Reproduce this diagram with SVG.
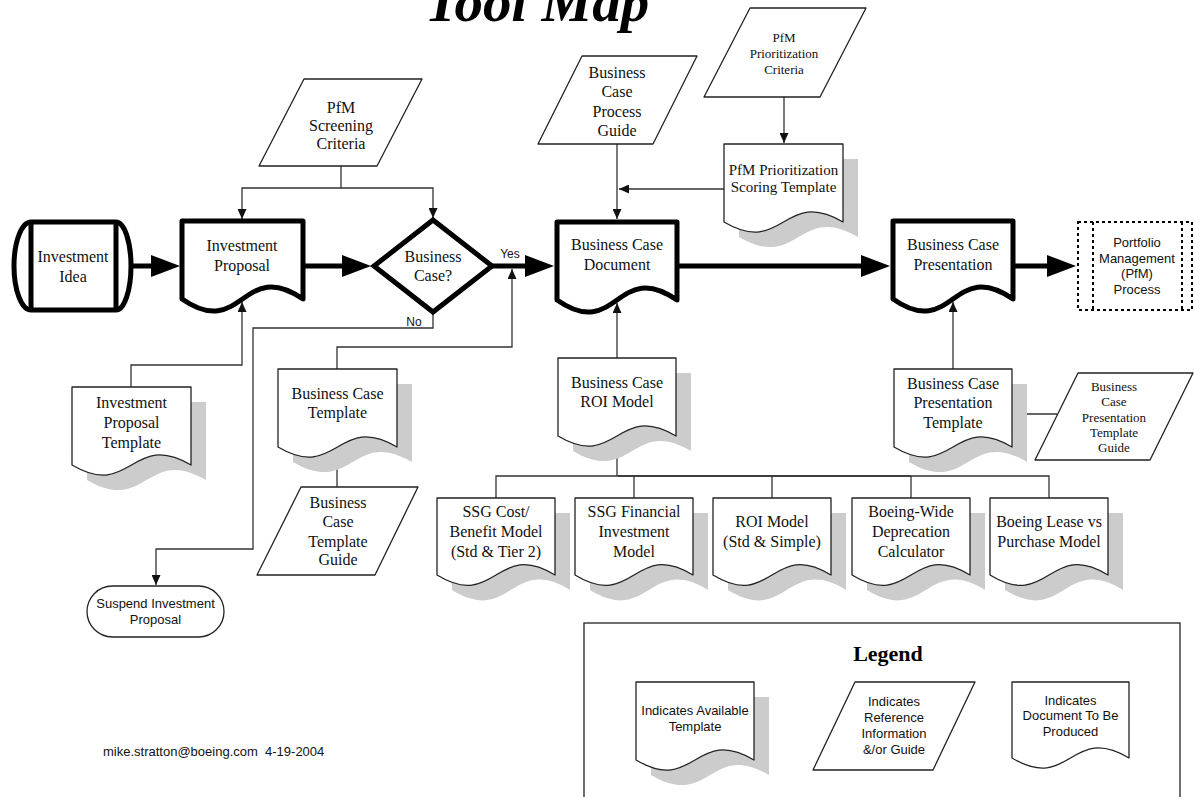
<svg xmlns="http://www.w3.org/2000/svg" width="1194" height="797" viewBox="0 0 1194 797">
<style>
.bg{fill:#fff}
.doc{fill:#fff;stroke:#222;stroke-width:1.3;stroke-linejoin:round}
.thick{fill:#fff;stroke:#000;stroke-width:5;stroke-linejoin:round}
.sh{fill:#cccccc}
.c{fill:none;stroke:#333;stroke-width:1.3}
.tk{fill:none;stroke:#000;stroke-width:5}
.s{font-family:"Liberation Serif","Times New Roman",serif;font-size:16px;text-anchor:middle;fill:#111}
.s15{font-size:15px}
.s13{font-size:13px}
.a{font-family:"Liberation Sans",Arial,sans-serif;font-size:13px;text-anchor:middle;fill:#111}
.a12{font-size:12px}
</style>
<defs>
<marker id="ar" viewBox="0 0 10 9" refX="10" refY="4.5" markerWidth="10" markerHeight="9" markerUnits="userSpaceOnUse" orient="auto"><path d="M0,0 L10,4.5 L0,9 z" fill="#111"/></marker>
<marker id="big" viewBox="0 0 29 22" refX="1" refY="11" markerWidth="29" markerHeight="22" markerUnits="userSpaceOnUse" orient="auto"><path d="M0,0 L29,11 L0,22 z" fill="#000"/></marker>
</defs>
<rect class="bg" x="0" y="0" width="1194" height="797"/>

<text x="537" y="21" font-family="'Liberation Serif','Times New Roman',serif" font-size="57" font-weight="bold" font-style="italic" text-anchor="middle" fill="#000">Tool Map</text>

<g id="connectors">
<path class="c" d="M341,166 V188 H242 V219" marker-end="url(#ar)"/>
<path class="c" d="M341,188 H433 V218" marker-end="url(#ar)"/>
<path class="c" d="M131,387 V365 H242 V302" marker-end="url(#ar)"/>
<path class="c" d="M337,369 V347 H512 V269" marker-end="url(#ar)"/>
<path class="c" d="M337,487 V448" marker-end="url(#ar)"/>
<path class="c" d="M433,314 V328 H253 V549 H156 V585" marker-end="url(#ar)"/>
<path class="c" d="M617,144 V219" marker-end="url(#ar)"/>
<path class="c" d="M724,189 H619" marker-end="url(#ar)"/>
<path class="c" d="M784,97 V143" marker-end="url(#ar)"/>
<path class="c" d="M617,358 V303" marker-end="url(#ar)"/>
<path class="c" d="M496,498 V476 H1049 V498"/>
<path class="c" d="M634,476 V498 M772,476 V498 M911,476 V498"/>
<path class="c" d="M618,476 H911" stroke-width="2"/>
<path class="c" d="M617,476 V438" marker-end="url(#ar)"/>
<path class="c" d="M953,369 V302" marker-end="url(#ar)"/>
<path class="c" d="M1057,414 H1014" marker-end="url(#ar)"/>
<path class="tk" d="M133,266 H152" marker-end="url(#big)"/>
<path class="tk" d="M303,266 H343" marker-end="url(#big)"/>
<path class="tk" d="M492,266 H526" marker-end="url(#big)"/>
<path class="tk" d="M677,266 H862" marker-end="url(#big)"/>
<path class="tk" d="M1013,266 H1048" marker-end="url(#big)"/>
<text class="a a12" x="510" y="258">Yes</text>
<text class="a a12" x="414" y="326">No</text>
</g>

<g id="investment-idea">
<path class="thick" d="M31,222 H116 A15,44 0 0 1 116,310 H31 A17,44 0 0 1 31,222 Z"/>
<path class="tk" d="M31,222 V310 M116,222 V310"/>
<text class="s" x="73" y="262">Investment</text>
<text class="s" x="73" y="282">Idea</text>
</g>

<g id="investment-proposal">
<path class="thick" d="M182,221 H303 V299 C242.5,257 242.5,341 182,299 Z"/>
<text class="s" x="242" y="251">Investment</text>
<text class="s" x="242" y="271">Proposal</text>
</g>

<g id="business-case-decision">
<polygon class="thick" style="stroke-linejoin:miter" points="433,220 492,266 433,312 374,266"/>
<text class="s" x="433" y="262">Business</text>
<text class="s" x="433" y="281">Case?</text>
</g>

<g id="business-case-document">
<path class="thick" d="M557,222 H677 V300 C617,258 617,342 557,300 Z"/>
<text class="s" x="617" y="250">Business Case</text>
<text class="s" x="617" y="270">Document</text>
</g>

<g id="business-case-presentation">
<path class="thick" d="M893,221 H1013 V299 C953,257 953,341 893,299 Z"/>
<text class="s" x="953" y="250">Business Case</text>
<text class="s" x="953" y="270">Presentation</text>
</g>

<g id="portfolio-process">
<rect x="1078" y="222" width="114" height="88" fill="#fff" stroke="#000" stroke-width="2" stroke-dasharray="3,3"/>
<path d="M1093,222 V310 M1182,222 V310" stroke="#000" stroke-width="2" stroke-dasharray="3,3"/>
<text class="a" x="1137" y="246.5">Portfolio</text>
<text class="a" x="1137" y="262.5">Management</text>
<text class="a" x="1137" y="277.5">(PfM)</text>
<text class="a" x="1137" y="293.5">Process</text>
</g>

<g id="pfm-screening-criteria">
<polygon class="doc" points="304,79 422,79 377,166 259,166"/>
<text class="s" x="341" y="113">PfM</text>
<text class="s" x="341" y="131">Screening</text>
<text class="s" x="341" y="149">Criteria</text>
</g>

<g id="business-case-process-guide">
<polygon class="doc" points="582,56 697,56 653,144 538,144"/>
<text class="s" x="617" y="77.5">Business</text>
<text class="s" x="617" y="97">Case</text>
<text class="s" x="617" y="116.5">Process</text>
<text class="s" x="617" y="136">Guide</text>
</g>

<g id="pfm-prioritization-criteria">
<polygon class="doc" points="750,8 866,8 820,97 704,97"/>
<text class="s s13" x="784" y="41.5">PfM</text>
<text class="s s13" x="784" y="57.5">Prioritization</text>
<text class="s s13" x="784" y="73.5">Criteria</text>
</g>

<g id="pfm-scoring-template">
<path class="sh" d="M739,159 H858 V237 C798.5,202 798.5,272 739,237 Z"/>
<path class="doc" d="M724,144 H843 V222 C783.5,187 783.5,257 724,222 Z"/>
<text class="s s15" x="783.5" y="175">PfM Prioritization</text>
<text class="s s15" x="783.5" y="192">Scoring Template</text>
</g>

<g id="investment-proposal-template">
<path class="sh" d="M87,402 H206 V480 C146.5,445 146.5,515 87,480 Z"/>
<path class="doc" d="M72,387 H191 V465 C131.5,430 131.5,500 72,465 Z"/>
<text class="s" x="131.5" y="407.5">Investment</text>
<text class="s" x="131.5" y="427.5">Proposal</text>
<text class="s" x="131.5" y="447.5">Template</text>
</g>

<g id="business-case-template">
<path class="sh" d="M293,384 H412 V462 C352.5,427 352.5,497 293,462 Z"/>
<path class="doc" d="M278,369 H397 V447 C337.5,412 337.5,482 278,447 Z"/>
<text class="s" x="337.5" y="398.5">Business Case</text>
<text class="s" x="337.5" y="417.5">Template</text>
</g>

<g id="business-case-template-guide">
<polygon class="doc" points="301,487 418,487 375,575 257,575"/>
<text class="s" x="338" y="507.5">Business</text>
<text class="s" x="338" y="526.5">Case</text>
<text class="s" x="338" y="546.5">Template</text>
<text class="s" x="338" y="564.5">Guide</text>
</g>

<g id="suspend-investment-proposal">
<rect x="87" y="586" width="137" height="51" rx="25.5" fill="#fff" stroke="#222" stroke-width="1.3"/>
<text class="a" x="155.5" y="607.5">Suspend Investment</text>
<text class="a" x="155.5" y="623.5">Proposal</text>
</g>

<g id="business-case-roi-model">
<path class="sh" d="M573,373 H691 V451 C632,416 632,486 573,451 Z"/>
<path class="doc" d="M558,358 H676 V436 C617,401 617,471 558,436 Z"/>
<text class="s" x="617" y="387.5">Business Case</text>
<text class="s" x="617" y="407">ROI Model</text>
</g>

<g id="business-case-presentation-template">
<path class="sh" d="M909,384 H1027 V462 C968,427 968,497 909,462 Z"/>
<path class="doc" d="M894,369 H1012 V447 C953,412 953,482 894,447 Z"/>
<text class="s" x="953" y="388.5">Business Case</text>
<text class="s" x="953" y="408">Presentation</text>
<text class="s" x="953" y="427.5">Template</text>
</g>

<g id="business-case-presentation-template-guide">
<polygon class="doc" points="1078,373 1193,373 1150,460 1035,460"/>
<text class="s s13" x="1114" y="391">Business</text>
<text class="s s13" x="1114" y="406.3">Case</text>
<text class="s s13" x="1114" y="421.6">Presentation</text>
<text class="s s13" x="1114" y="436.9">Template</text>
<text class="s s13" x="1114" y="452.2">Guide</text>
</g>

<g id="ssg-cost-benefit-model">
<path class="sh" d="M452,513 H570 V590 C511,554 511,626 452,590 Z"/>
<path class="doc" d="M437,498 H555 V575 C496,539 496,611 437,575 Z"/>
<text class="s" x="496" y="516.5">SSG Cost/</text>
<text class="s" x="496" y="536.5">Benefit Model</text>
<text class="s" x="496" y="557">(Std &amp; Tier 2)</text>
</g>

<g id="ssg-financial-investment-model">
<path class="sh" d="M590,513 H708 V590 C649,554 649,626 590,590 Z"/>
<path class="doc" d="M575,498 H693 V575 C634,539 634,611 575,575 Z"/>
<text class="s" x="634" y="516.5">SSG Financial</text>
<text class="s" x="634" y="536.5">Investment</text>
<text class="s" x="634" y="557">Model</text>
</g>

<g id="roi-model">
<path class="sh" d="M728,513 H846 V590 C787,554 787,626 728,590 Z"/>
<path class="doc" d="M713,498 H831 V575 C772,539 772,611 713,575 Z"/>
<text class="s" x="772" y="526.5">ROI Model</text>
<text class="s" x="772" y="546.5">(Std &amp; Simple)</text>
</g>

<g id="boeing-wide-depreciation-calculator">
<path class="sh" d="M867,513 H985 V590 C926,554 926,626 867,590 Z"/>
<path class="doc" d="M852,498 H970 V575 C911,539 911,611 852,575 Z"/>
<text class="s" x="911" y="516.5">Boeing-Wide</text>
<text class="s" x="911" y="536.5">Deprecation</text>
<text class="s" x="911" y="557">Calculator</text>
</g>

<g id="boeing-lease-vs-purchase-model">
<path class="sh" d="M1005,513 H1123 V590 C1064,554 1064,626 1005,590 Z"/>
<path class="doc" d="M990,498 H1108 V575 C1049,539 1049,611 990,575 Z"/>
<text class="s" x="1049" y="526.5">Boeing Lease vs</text>
<text class="s" x="1049" y="546.5">Purchase Model</text>
</g>

<g id="legend">
<rect x="584" y="623" width="596" height="200" fill="none" stroke="#222" stroke-width="1.3"/>
<text x="888" y="661" font-family="'Liberation Serif','Times New Roman',serif" font-size="22" font-weight="bold" text-anchor="middle" fill="#000">Legend</text>
<path class="sh" d="M651,697 H769 V775 C710,740 710,810 651,775 Z"/>
<path class="doc" d="M636,682 H754 V760 C695,725 695,795 636,760 Z"/>
<text class="a" x="695" y="714.5">Indicates Available</text>
<text class="a" x="695" y="730.5">Template</text>
<polygon class="doc" points="855,682 975,682 933,770 813,770"/>
<text class="a" x="894" y="705.5">Indicates</text>
<text class="a" x="894" y="721.5">Reference</text>
<text class="a" x="894" y="737.5">Information</text>
<text class="a" x="894" y="753.5">&amp;/or Guide</text>
<path class="doc" d="M1012,682 H1129 V758 C1070.5,723 1070.5,793 1012,758 Z"/>
<text class="a" x="1070.5" y="704.5">Indicates</text>
<text class="a" x="1070.5" y="719.5">Document To Be</text>
<text class="a" x="1070.5" y="735.5">Produced</text>
</g>

<text x="103" y="756" xml:space="preserve" font-family="'Liberation Sans',Arial,sans-serif" font-size="13" fill="#111">mike.stratton@boeing.com  4-19-2004</text>
</svg>
